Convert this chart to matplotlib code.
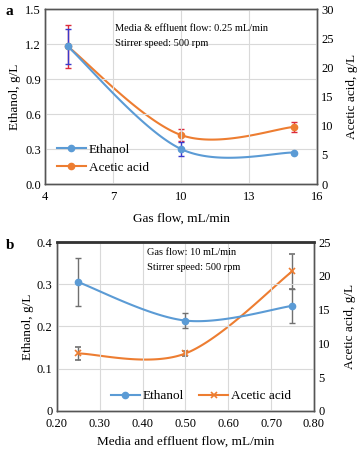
import numpy as np
import matplotlib
matplotlib.use('Agg')
from matplotlib import pyplot as plt
from matplotlib.lines import Line2D

plt.rcParams['font.family'] = ['Liberation Serif', 'DejaVu Serif']
plt.rcParams['font.size'] = 9

BLUE = '#5b9bd5'
ORANGE = '#ed7d31'

# panel a: gas flow
gas_flow = [5, 10, 15]
eth_a = [1.18, 0.30, 0.27]
eth_a_err = [0.15, 0.06, 0.0]
ace_a = [23.6, 8.4, 9.8]
ace_a_err = [3.7, 1.1, 0.9]

# panel b: media and effluent flow
media_flow = [0.25, 0.50, 0.75]
eth_b = [0.305, 0.214, 0.249]
eth_b_err = [0.057, 0.017, 0.040]
ace_b = [8.5, 8.5, 20.7]
ace_b_err = [1.0, 0.4, 2.6]


def smooth(x, y, n=60):
    # excel-like smoothed line (bezier through the points)
    x = np.asarray(x, float); y = np.asarray(y, float)
    px = np.concatenate([[x[0]], x, [x[-1]]])
    py = np.concatenate([[y[0]], y, [y[-1]]])
    t = np.linspace(0, 1, n)
    xs, ys = [], []
    for i in range(1, len(x)):
        p0 = np.array([px[i], py[i]])
        p1 = np.array([px[i+1], py[i+1]])
        c1 = p0 + (np.array([px[i+1], py[i+1]]) - np.array([px[i-1], py[i-1]])) / 6
        c2 = p1 - (np.array([px[i+2], py[i+2]]) - np.array([px[i], py[i]])) / 6
        b = ((1-t)**3)[:, None]*p0 + (3*(1-t)**2*t)[:, None]*c1 + (3*(1-t)*t**2)[:, None]*c2 + (t**3)[:, None]*p1
        xs.append(b[:, 0]); ys.append(b[:, 1])
    return np.concatenate(xs), np.concatenate(ys)


def frame(ax):
    for s in ax.spines.values():
        s.set_color('#555555')
        s.set_linewidth(1.0)
    ax.tick_params(length=0, pad=3)


fig = plt.figure(figsize=(3.6, 4.5), dpi=100)

# ---- panel a
ax = fig.add_axes([0.125, 0.591, 0.756, 0.389])
ax2 = ax.twinx()
ax.set_zorder(ax2.get_zorder() + 1); ax.patch.set_visible(False)
ax.set_xlim(4, 16); ax.set_xticks([4, 7, 10, 13, 16])
ax.set_ylim(0, 1.5); ax.set_yticks(np.arange(0, 1.51, 0.3))
ax.yaxis.set_major_formatter(plt.FormatStrFormatter('%.1f'))
ax2.set_ylim(0, 30); ax2.set_yticks(range(0, 31, 5))
ax.grid(color='#d9d9d9', lw=0.8)
sx, sy = smooth(gas_flow, eth_a)
ax.plot(sx, sy, color=BLUE, lw=1.5)
ax.errorbar(gas_flow, eth_a, yerr=eth_a_err, fmt='o', color=BLUE, ms=4.5,
            ecolor='#3a3acc', elinewidth=1, capsize=2)
sx, sy = smooth(gas_flow, ace_a)
ax2.plot(sx, sy, color=ORANGE, lw=1.5)
ax2.errorbar(gas_flow, ace_a, yerr=ace_a_err, fmt='o', color=ORANGE, ms=4.5,
             ecolor='#dd2a3a', elinewidth=1, capsize=2)
for a in (ax, ax2):
    frame(a)
ax.tick_params(axis='x', pad=5)
ax.set_ylabel('Ethanol, g/L', fontsize=9.5, labelpad=3)
ax2.set_ylabel('Acetic acid, g/L', fontsize=9.5, labelpad=9)
ax.set_xlabel('Gas flow, mL/min', fontsize=9.5, labelpad=7)
ax.text(0.257, 0.89, 'Media & effluent flow: 0.25 mL/min', transform=ax.transAxes,
        fontsize=7.5, va='center')
ax.text(0.257, 0.805, 'Stirrer speed: 500 rpm', transform=ax.transAxes,
        fontsize=7.5, va='center')
h = [Line2D([], [], color=BLUE, marker='o', ms=4.5, lw=1.5),
     Line2D([], [], color=ORANGE, marker='o', ms=4.5, lw=1.5)]
ax.legend(h, ['Ethanol', 'Acetic acid'], loc='lower left', bbox_to_anchor=(0.0, -0.01),
          frameon=False, fontsize=9.5, handlelength=2.2, handletextpad=0.2, labelspacing=0.45)
fig.text(0.015, 0.975, 'a', fontsize=11, fontweight='bold', va='center')

# ---- panel b
bx = fig.add_axes([0.158, 0.087, 0.714, 0.375])
bx2 = bx.twinx()
bx.set_zorder(bx2.get_zorder() + 1); bx.patch.set_visible(False)
bx.set_xlim(0.2, 0.8); bx.set_xticks(np.arange(0.2, 0.81, 0.1))
bx.xaxis.set_major_formatter(plt.FormatStrFormatter('%.2f'))
bx.set_ylim(0, 0.4); bx.set_yticks([0, 0.1, 0.2, 0.3, 0.4])
bx.set_yticklabels(['0', '0.1', '0.2', '0.3', '0.4'])
bx2.set_ylim(0, 25); bx2.set_yticks(range(0, 26, 5))
bx.grid(color='#d9d9d9', lw=0.8)
sx, sy = smooth(media_flow, eth_b)
bx.plot(sx, sy, color=BLUE, lw=1.5)
bx.errorbar(media_flow, eth_b, yerr=eth_b_err, fmt='o', color=BLUE, ms=4.5,
            ecolor='#707070', elinewidth=1, capsize=2)
sx, sy = smooth(media_flow, ace_b)
bx2.plot(sx, sy, color=ORANGE, lw=1.5)
bx2.errorbar(media_flow, ace_b, yerr=ace_b_err, fmt='x', color=ORANGE, ms=4.5, mew=1.2,
             ecolor='#707070', elinewidth=1, capsize=2)
for a in (bx, bx2):
    frame(a)
bx.tick_params(axis='x', pad=5)
bx.spines['top'].set_linewidth(2)
bx.spines['top'].set_color('#333333')
bx.set_ylabel('Ethanol, g/L', fontsize=9.5, labelpad=2)
bx2.set_ylabel('Acetic acid, g/L', fontsize=9.5, labelpad=10)
bx.set_xlabel('Media and effluent flow, mL/min', fontsize=9.5, labelpad=4)
bx.text(0.35, 0.94, 'Gas flow: 10 mL/min', transform=bx.transAxes, fontsize=7.5, va='center')
bx.text(0.35, 0.85, 'Stirrer speed: 500 rpm', transform=bx.transAxes, fontsize=7.5, va='center')
h = [Line2D([], [], color=BLUE, marker='o', ms=4.5, lw=1.5),
     Line2D([], [], color=ORANGE, marker='x', ms=4.5, mew=1.2, lw=1.5)]
bx.legend(h, ['Ethanol', 'Acetic acid'], loc='lower center', bbox_to_anchor=(0.56, -0.02),
          ncol=2, frameon=False, fontsize=9.5, handlelength=2.2, handletextpad=0.2, columnspacing=1.2)
fig.text(0.015, 0.455, 'b', fontsize=11, fontweight='bold', va='center')

fig.savefig('out.png', dpi=100)
